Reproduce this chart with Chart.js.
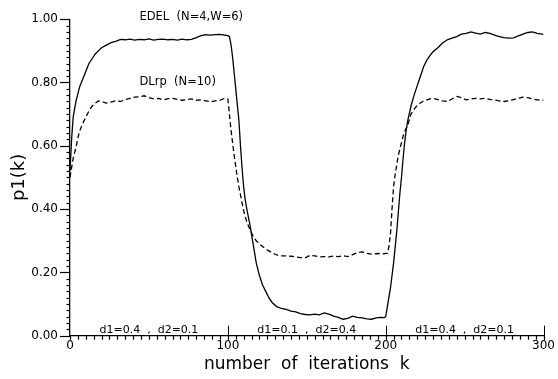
<!DOCTYPE html>
<html>
<head>
<meta charset="utf-8">
<script src="https://cdn.jsdelivr.net/npm/chart.js@4/dist/chart.umd.min.js"></script>
<style>
html,body{margin:0;padding:0;background:#fff;}
#wrap{width:558px;height:379px;}
</style>
</head>
<body>
<div id="wrap"><canvas id="c" width="558" height="379"></canvas></div>
<script>
// iteration index k
const iterK = [
  0,1,2,3,4,5,6,8,10,12,14,16,18,20,
  23,26,29,32,35,38,41,44,47,50,53,56,59,62,65,68,71,74,77,80,83,86,89,92,95,98,100,
  101,102,103,104,105,106,107,108,109,110,111,112,
  114,116,118,120,122,124,126,128,
  131,134,137,140,143,146,149,152,155,158,161,164,167,170,173,176,179,182,185,188,191,194,197,199,200,
  201,202,203,204,205,206,207,208,209,210,211,212,213,214,
  216,218,220,222,224,226,228,230,
  233,236,239,242,245,248,251,254,257,260,263,266,269,272,275,278,281,284,287,290,293,296,300
];
// EDEL (N=4,W=6) : p1(k)
const edel = [
  0.52,0.62,0.69,0.72,0.745,0.765,0.785,0.81,0.835,0.86,0.875,0.89,0.90,0.91,
  0.918,0.926,0.930,0.936,0.935,0.937,0.934,0.936,0.935,0.938,0.934,0.936,0.937,0.935,0.936,0.934,0.937,0.935,0.936,0.942,0.948,0.951,0.950,0.951,0.952,0.950,0.948,
  0.945,0.92,0.88,0.83,0.78,0.73,0.68,0.60,0.53,0.47,0.43,0.40,
  0.35,0.29,0.23,0.19,0.16,0.14,0.12,0.105,
  0.092,0.086,0.083,0.078,0.075,0.070,0.067,0.066,0.068,0.066,0.072,0.068,0.062,0.058,0.052,0.055,0.062,0.058,0.056,0.053,0.052,0.056,0.058,0.057,0.060,
  0.09,0.12,0.15,0.19,0.23,0.28,0.33,0.39,0.45,0.50,0.56,0.61,0.65,0.68,
  0.725,0.76,0.79,0.82,0.85,0.87,0.885,0.897,
  0.91,0.925,0.935,0.94,0.945,0.953,0.955,0.96,0.956,0.953,0.958,0.955,0.95,0.945,0.942,0.94,0.941,0.947,0.953,0.958,0.96,0.955,0.952
];
// DLrp (N=10) : p1(k)
const dlrp = [
  0.50,0.53,0.56,0.58,0.60,0.625,0.645,0.67,0.69,0.71,0.725,0.735,0.742,0.740,
  0.735,0.738,0.742,0.740,0.746,0.750,0.754,0.755,0.758,0.752,0.748,0.750,0.745,0.749,0.750,0.747,0.744,0.746,0.748,0.744,0.745,0.742,0.739,0.742,0.744,0.750,0.748,
  0.70,0.65,0.61,0.57,0.535,0.50,0.47,0.445,0.42,0.395,0.377,0.36,
  0.335,0.315,0.30,0.29,0.282,0.274,0.268,0.262,
  0.255,0.252,0.252,0.251,0.249,0.247,0.246,0.254,0.252,0.249,0.250,0.249,0.252,0.250,0.253,0.250,0.256,0.262,0.265,0.260,0.258,0.259,0.260,0.259,0.260,
  0.26,0.28,0.32,0.40,0.47,0.51,0.54,0.57,0.59,0.61,0.63,0.645,0.655,0.665,
  0.70,0.715,0.728,0.735,0.742,0.745,0.748,0.750,
  0.746,0.742,0.740,0.748,0.756,0.752,0.745,0.748,0.750,0.748,0.750,0.747,0.745,0.742,0.740,0.742,0.746,0.750,0.754,0.752,0.748,0.745,0.744
];
const seriesNames = ['EDEL  (N=4,W=6)', 'DLrp  (N=10)'];
const regimeLabels = ['d1=0.4  ,  d2=0.1', 'd1=0.1  ,  d2=0.4', 'd1=0.4  ,  d2=0.1'];
const regimeCenters = [50, 150, 250];
const regimeBounds = [100, 200, 300];
const yTickValues = [0, 0.2, 0.4, 0.6, 0.8, 1.0];
const xTickValues = [0, 100, 200, 300];

const FONT = "'DejaVu Sans', sans-serif";

const decor = {
  id: 'decor',
  afterDraw(chart) {
    const ctx = chart.ctx;
    const xs = chart.scales.x, ys = chart.scales.y;
    const ax = xs.getPixelForValue(0);
    const ay = ys.getPixelForValue(0);
    ctx.save();
    ctx.strokeStyle = '#000';
    ctx.lineWidth = 1.2;
    // y minor/major ticks
    for (let i = 0; i <= 50; i++) {
      const py = Math.round(ys.getPixelForValue(i * 0.02)) + 0.5;
      const len = (i % 10 === 0) ? 10 : 3.5;
      ctx.beginPath(); ctx.moveTo(ax - len, py); ctx.lineTo(ax, py); ctx.stroke();
    }
    // x minor ticks
    for (let k = 0; k <= 300; k += 5) {
      const px = Math.round(xs.getPixelForValue(k)) + 0.5;
      ctx.beginPath(); ctx.moveTo(px, ay); ctx.lineTo(px, ay + 4); ctx.stroke();
    }
    // regime boundaries
    ctx.lineWidth = 1;
    regimeBounds.forEach(k => {
      const px = Math.round(xs.getPixelForValue(k)) + 0.5;
      ctx.beginPath(); ctx.moveTo(px, ay - 10); ctx.lineTo(px, ay + 4); ctx.stroke();
    });
    // regime labels
    ctx.fillStyle = '#000';
    ctx.font = '11px ' + FONT;
    ctx.textAlign = 'center';
    ctx.textBaseline = 'middle';
    regimeLabels.forEach((t, i) => {
      ctx.fillText(t, xs.getPixelForValue(regimeCenters[i]), ay - 6);
    });
    // series labels
    ctx.font = '11.5px ' + FONT;
    ctx.textAlign = 'left';
    ctx.fillText(seriesNames[0], xs.getPixelForValue(44), ys.getPixelForValue(1.008));
    ctx.fillText(seriesNames[1], xs.getPixelForValue(44), ys.getPixelForValue(0.80));
    ctx.restore();
  }
};

new Chart(document.getElementById('c'), {
  type: 'line',
  data: {
    datasets: [
      {
        label: seriesNames[0],
        data: iterK.map((k, i) => ({x: k, y: edel[i]})),
        borderColor: '#000', borderWidth: 1.3, pointRadius: 0, tension: 0, fill: false
      },
      {
        label: seriesNames[1],
        data: iterK.map((k, i) => ({x: k, y: dlrp[i]})),
        borderColor: '#000', borderWidth: 1.3, borderDash: [5, 3], pointRadius: 0, tension: 0, fill: false
      }
    ]
  },
  options: {
    responsive: false,
    animation: false,
    layout: {padding: {top: 12.5, right: 11, left: 0, bottom: 0}},
    plugins: {legend: {display: false}, tooltip: {enabled: false}},
    scales: {
      x: {
        type: 'linear', min: 0, max: 300,
        afterFit: s => { s.height = 43.3; },
        afterBuildTicks: s => { s.ticks = xTickValues.map(v => ({value: v})); },
        grid: {display: false, drawTicks: false},
        border: {display: true, color: '#000', width: 1.3},
        ticks: {color: '#000', font: {family: FONT, size: 12}, padding: 3, maxRotation: 0},
        title: {display: true, text: 'number  of  iterations  k', color: '#000',
                font: {family: FONT, size: 17}, padding: {top: 0, bottom: 4}}
      },
      y: {
        min: 0, max: 1,
        afterFit: s => { s.width = 70; },
        afterBuildTicks: s => { s.ticks = yTickValues.map(v => ({value: v})); },
        grid: {display: false, drawTicks: false},
        border: {display: true, color: '#000', width: 1.3},
        ticks: {color: '#000', font: {family: FONT, size: 12}, padding: 12,
                callback: v => Number(v).toFixed(2)},
        title: {display: true, text: 'p1(k)', color: '#000',
                font: {family: FONT, size: 18}, padding: {top: 9, bottom: 0}}
      }
    }
  },
  plugins: [decor]
});
</script>
</body>
</html>
